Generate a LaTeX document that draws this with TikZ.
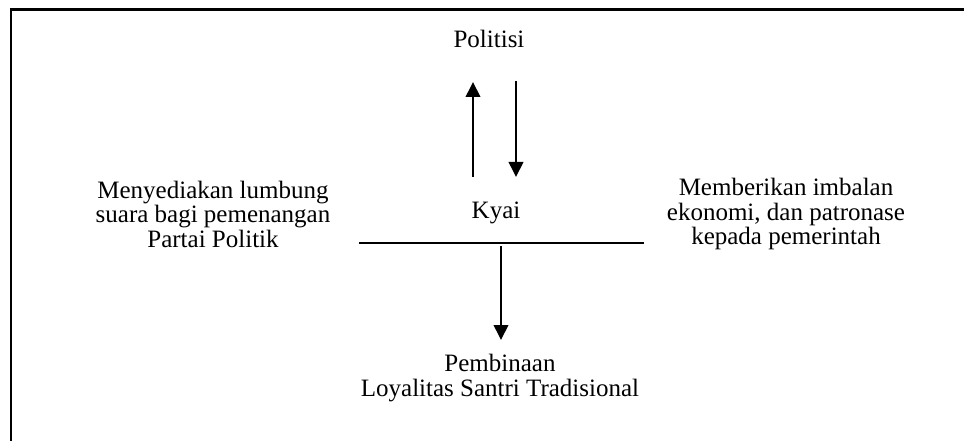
\documentclass[tikz,border=0pt]{standalone}
\usepackage{fontspec}
\setmainfont{Liberation Serif}
\usetikzlibrary{arrows.meta}
\begin{document}
\begin{tikzpicture}[x=1pt,y=-1pt,
  lbl/.style={font=\fontsize{25}{24.5}\selectfont, align=center, inner sep=0pt},
  arr/.style={line width=2pt, -{Triangle[length=15pt,width=14.5pt]}},
  rule/.style={line width=2pt}]
\useasboundingbox (0,0) rectangle (964,441);
\draw[line width=2.2pt] (11,441) -- (11,9.5) -- (964,9.5);
\node[lbl] (pol) at (489,39) {Politisi};
\node[lbl] (kyai) at (496,213) {Kyai};
\node[lbl] (left) at (213,214) {Menyediakan lumbung\\suara bagi pemenangan\\Partai Politik};
\node[lbl] (right) at (786,214) {Memberikan imbalan\\ekonomi, dan patronase\\kepada pemerintah};
\node[lbl] (bot) at (500,378) {Pembinaan\\Loyalitas Santri Tradisional};
\coordinate (ls) at (359,243);
\coordinate (le) at (644,243);
\draw[rule] (ls) -- (le);
\coordinate (upS) at (473,177);
\coordinate (upE) at (473,82);
\coordinate (dnS) at (516,81);
\coordinate (dnE) at (516,177);
\coordinate (vS) at (501,246);
\coordinate (vE) at (501,340);
\draw[arr] (upS) -- (upE);
\draw[arr] (dnS) -- (dnE);
\draw[arr] (vS) -- (vE);
\end{tikzpicture}
\end{document}
